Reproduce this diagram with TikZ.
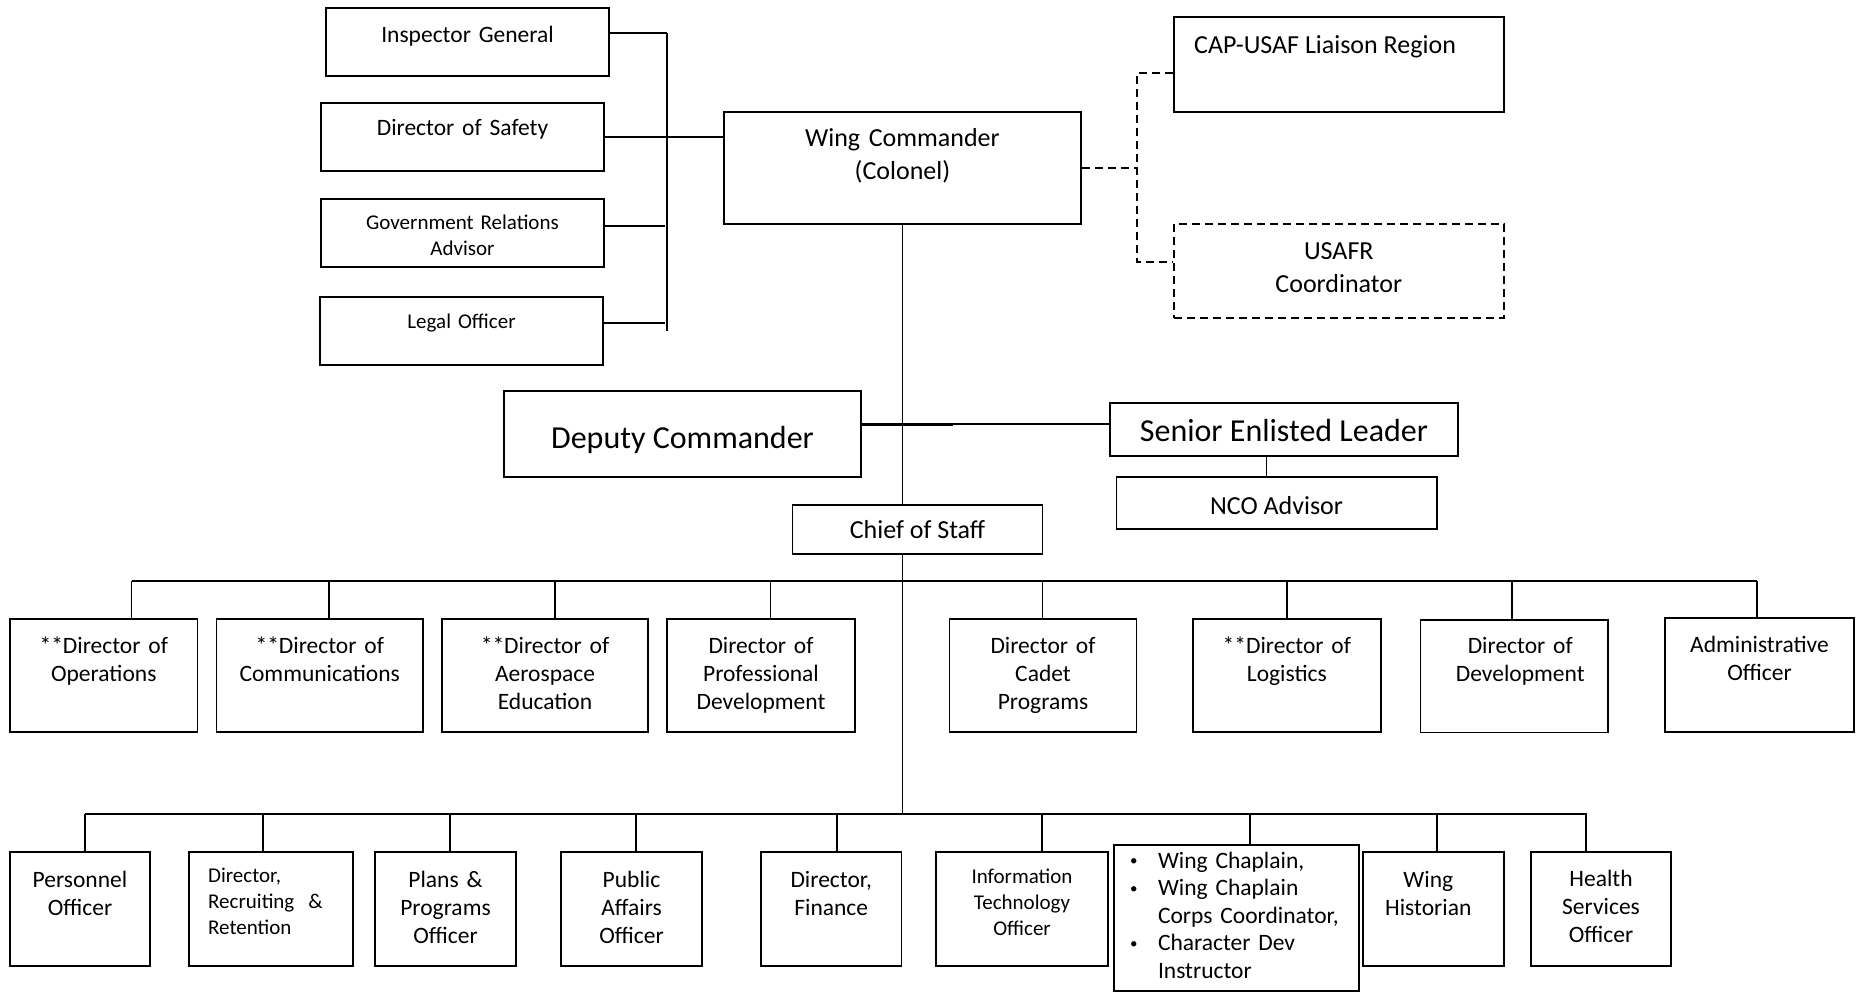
\documentclass[tikz,border=0pt]{standalone}
\usepackage{fontspec}
\setmainfont{Carlito}
\usetikzlibrary{calc,fit}
\begin{document}
\begin{tikzpicture}[x=1pt,y=-1pt,
  box/.style={draw=black, line width=1.8pt, fill=white, inner sep=0pt},
  dbox/.style={box, dash pattern=on 8pt off 5pt},
  link/.style={draw=black, line width=1.8pt},
  dlink/.style={link, dash pattern=on 8pt off 5pt},
  lbl/.style={inner sep=0pt, align=center, text width=#1},
  lbl/.default=200pt,
  fa/.style={font=\fontsize{23.5}{27.8}\selectfont},
  fb/.style={font=\fontsize{21}{25.8}\selectfont},
  fc/.style={font=\fontsize{26}{33}\selectfont},
  fd/.style={font=\fontsize{32}{38}\selectfont}
]
\useasboundingbox (0,0) rectangle (1858,992);

% ---------- top-left staff ----------
\node[box, fit={(326,8.3) (609,76)}] (ig) {};
\node[box, fit={(321,103) (604,170.7)}] (dos) {};
\node[box, fit={(321,199.3) (604,267.3)}] (gra) {};
\node[box, fit={(320,297) (603,365)}] (lo) {};
\node[box, fit={(724,111.7) (1081,224.3)}] (wc) {};

\node[lbl=260pt, fa, anchor=base] at (ig.center |- 0,42.5) {Inspector General};
\node[lbl=260pt, fa, anchor=base] at (dos.center |- 0,135.5) {Director of Safety};
\node[lbl=260pt, fb, anchor=base] at (gra.center |- 0,229.7) {Government Relations\\Advisor};
\node[lbl=260pt, fb, anchor=base] at (lo.center |- 0,328.4) {Legal Officer};
\node[lbl=330pt, fc, anchor=base] at (wc.center |- 0,146.3) {Wing Commander\\(Colonel)};

\coordinate (bt) at (667,33.3);
\coordinate (bb) at (667,331);
\draw[link] (bt) -- (bb);
\draw[link] (bt) -- (bt -| ig.east);
\draw[link] (dos.east) -- (dos.east -| wc.west);
\draw[link] ($(gra.east)+(0,-7.3)$) -- +(60,0);
\draw[link] ($(lo.east)+(0,-8)$) -- +(61,0);

% ---------- right dashed ----------
\node[box, fit={(1174,16.7) (1503.6,111.7)}] (cap) {};
\node[dbox, fit={(1174,224) (1503.6,318.3)}] (usafr) {};
\node[fc, inner sep=0pt, anchor=base west] at (1194,53.3) {CAP-USAF Liaison Region};
\node[lbl=300pt, fc, anchor=base] at (usafr.center |- 0,260) {USAFR\\Coordinator};

\coordinate (dtop) at (1136.6,73.3);
\coordinate (dbot) at (1136.6,261.7);
\draw[dlink] (wc.east) -- (wc.east -| dtop);
\draw[dlink] (cap.west |- dtop) -- (dtop) -- (dbot) -- (dbot -| usafr.west);

% ---------- middle ----------
\node[box, fit={(504,391) (861,476.7)}] (dep) {};
\node[box, fit={(1110,402.7) (1458,456)}] (sel) {};
\node[box, fit={(1116.5,477) (1436.6,529)}] (nco) {};
\node[box, fit={(792.5,505) (1042.5,554)}] (cos) {};

\node[fd, inner sep=0pt, anchor=base] at (dep.center |- 0,448) {Deputy Commander};
\node[fd, inner sep=0pt, anchor=base] at (sel.center |- 0,441.7) {Senior Enlisted Leader};
\node[fc, inner sep=0pt, anchor=base] at (nco.center |- 0,514.3) {NCO Advisor};
\node[fc, inner sep=0pt, anchor=base] at (cos.center |- 0,538.3) {Chief of Staff};

\coordinate (dl) at ($(dep.east)+(0,-9.5)$);
\draw[link] (dl) -- (dl -| sel.west);
\draw[line width=3pt] (dl) -- +(91,0);
\coordinate (sn) at (1266.4,0);
\draw[link] (sel.south -| sn) -- (nco.north -| sn);

% ---------- bars ----------
\coordinate (tbL) at (131.5,581);
\coordinate (tbR) at (1757,581);
\coordinate (bbL) at (85,814.3);
\coordinate (bbR) at (1587,814.3);
\draw[link] (tbL) -- (tbR);
\draw[link] (bbL) -- (bbR);
\draw[link] (wc.south) -- (cos.north -| wc.south);
\draw[link] (cos.south -| wc.south) -- (wc.south |- bbL);

% ---------- row 1 ----------
\node[box, fit={(10,619) (197.5,731.7)}] (d1) {};
\node[box, fit={(216.5,619) (423,731.7)}] (d2) {};
\node[box, fit={(442,619) (648,731.7)}] (d3) {};
\node[box, fit={(667,619) (855,731.7)}] (d4) {};
\node[box, fit={(949.5,619) (1136.5,731.7)}] (d5) {};
\node[box, fit={(1192.7,619) (1381,731.7)}] (d6) {};
\node[box, fit={(1420.5,620) (1608,732.5)}] (d7) {};
\node[box, fit={(1665,617.7) (1854,732)}] (d8) {};

\foreach \n/\x in {d1/131.5, d2/329, d3/554.6, d4/770.4, d5/1042.4, d6/1286.8, d7/1511.7, d8/1757}
  \draw[link] (\n.north -| \x,0) -- (tbL -| \x,0);

\node[lbl, fa, anchor=base] at (d1.center |- 0,653.5) {**Director of\\Operations};
\node[lbl, fa, anchor=base] at (d2.center |- 0,653.5) {**Director of\\Communications};
\node[lbl, fa, anchor=base] at (d3.center |- 0,653.5) {**Director of\\Aerospace\\Education};
\node[lbl, fa, anchor=base] at (d4.center |- 0,653.5) {Director of\\Professional\\Development};
\node[lbl, fa, anchor=base] at (d5.center |- 0,653.5) {Director of\\Cadet\\Programs};
\node[lbl, fa, anchor=base] at (d6.center |- 0,653.5) {**Director of\\Logistics};
\node[lbl, fa, anchor=base] at ($(d7.center |- 0,653.5)+(6,0)$) {Director of\\Development};
\node[lbl, fa, anchor=base] at (d8.center |- 0,652.5) {Administrative\\Officer};

% ---------- row 2 ----------
\node[box, fit={(10,851.7) (150,965.7)}] (p1) {};
\node[box, fit={(188.6,851.7) (353,965.7)}] (p2) {};
\node[box, fit={(375,851.7) (516,965.7)}] (p3) {};
\node[box, fit={(561,851.7) (702,965.7)}] (p4) {};
\node[box, fit={(761,851.7) (901.5,965.7)}] (p5) {};
\node[box, fit={(936,851.7) (1108,965.7)}] (p6) {};
\node[box, fit={(1114,845) (1359,991)}] (p7) {};
\node[box, fit={(1363,851.7) (1503.6,965.7)}] (p8) {};
\node[box, fit={(1531,851.7) (1671,965.7)}] (p9) {};

\foreach \n/\x in {p1/84.8, p2/263, p3/450, p4/636, p5/837, p6/1042, p7/1250, p8/1437, p9/1586}
  \draw[link] (\n.north -| \x,0) -- (bbL -| \x,0);

\node[lbl, fa, anchor=base] at (p1.center |- 0,887.5) {Personnel\\Officer};
\node[fb, inner sep=0pt, align=left, text width=140pt, anchor=base west] at (208,882.7) {Director,\\Recruiting\ \ \&\\Retention};
\node[lbl, fa, anchor=base] at (p3.center |- 0,887.5) {Plans \&\\Programs\\Officer};
\node[lbl, fa, anchor=base] at (p4.center |- 0,887.5) {Public\\Affairs\\Officer};
\node[lbl, fa, anchor=base] at (p5.center |- 0,887.5) {Director,\\Finance};
\node[lbl, fb, anchor=base] at (p6.center |- 0,883.4) {Information\\Technology\\Officer};
\node[inner sep=0pt, align=left, text width=20pt, anchor=base west, font=\fontsize{15}{27.5}\selectfont] at (1130,865.5) {\textbullet\\\textbullet\\\mbox{}\\\textbullet};
\node[inner sep=0pt, align=left, text width=200pt, anchor=base west, font=\fontsize{23.5}{27.5}\selectfont] at (1157.8,868.2) {Wing Chaplain,\\Wing Chaplain\\Corps Coordinator,\\Character Dev\\Instructor};
\node[lbl, fa, anchor=base] at ($(p8.center |- 0,887.5)+(-5,0)$) {Wing\\Historian};
\node[lbl, fa, anchor=base] at (p9.center |- 0,886.5) {Health\\Services\\Officer};

\end{tikzpicture}
\end{document}
